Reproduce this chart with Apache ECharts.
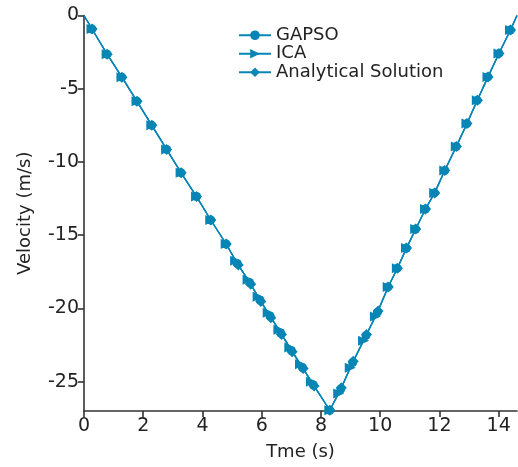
<!DOCTYPE html>
<html>
<head>
<meta charset="utf-8">
<script src="https://cdn.jsdelivr.net/npm/echarts@6/dist/echarts.min.js"></script>
<style>
  html, body { margin: 0; padding: 0; background: #fff; }
  #chart { width: 518px; height: 467px; }
</style>
</head>
<body>
<div id="chart"></div>
<script>
// Velocity profile over time: two optimisers against the analytical solution
const timeAnalytical = [0, 0.27, 0.78, 1.28, 1.79, 2.29, 2.79, 3.28, 3.80, 4.28, 4.80, 5.21, 5.63, 5.97, 6.31, 6.67, 7.03, 7.40, 7.77, 8.30,
  8.69, 9.09, 9.54, 9.93, 10.27, 10.58, 10.89, 11.20, 11.53, 11.84, 12.18, 12.57, 12.93, 13.28, 13.64, 14.01, 14.40, 14.62];
const velAnalytical = [0, -0.92, -2.64, -4.21, -5.86, -7.50, -9.14, -10.74, -12.36, -13.96, -15.60, -17.04, -18.34, -19.53, -20.63, -21.77, -22.96, -24.10, -25.30, -26.95,
  -25.42, -23.60, -21.77, -20.17, -18.53, -17.25, -15.88, -14.58, -13.21, -12.11, -10.58, -8.94, -7.38, -5.79, -4.19, -2.59, -0.99, 0];

const timeICA = [0, 0.27, 0.78, 1.28, 1.79, 2.29, 2.79, 3.28, 3.80, 4.28, 4.80, 5.12, 5.54, 5.88, 6.22, 6.58, 6.95, 7.31, 7.68, 8.30,
  8.60, 8.99, 9.44, 9.84, 10.27, 10.58, 10.89, 11.20, 11.53, 11.84, 12.18, 12.57, 12.93, 13.28, 13.64, 14.01, 14.40, 14.62];
const velICA = [0, -0.92, -2.64, -4.21, -5.86, -7.50, -9.14, -10.74, -12.36, -13.96, -15.60, -16.74, -18.04, -19.20, -20.30, -21.45, -22.66, -23.80, -25.00, -26.95,
  -25.80, -24.05, -22.20, -20.55, -18.53, -17.25, -15.88, -14.58, -13.21, -12.11, -10.58, -8.94, -7.38, -5.79, -4.19, -2.59, -0.99, 0];

const timeGAPSO = [0, 0.27, 0.78, 1.28, 1.79, 2.29, 2.79, 3.28, 3.80, 4.28, 4.80, 5.18, 5.60, 5.95, 6.29, 6.65, 7.01, 7.38, 7.75, 8.30,
  8.67, 9.07, 9.52, 9.91, 10.27, 10.58, 10.89, 11.20, 11.53, 11.84, 12.18, 12.57, 12.93, 13.28, 13.64, 14.01, 14.40, 14.62];
const velGAPSO = [0, -0.92, -2.64, -4.21, -5.86, -7.50, -9.14, -10.74, -12.36, -13.96, -15.60, -16.95, -18.25, -19.45, -20.55, -21.70, -22.90, -24.05, -25.25, -26.95,
  -25.50, -23.70, -21.85, -20.25, -18.53, -17.25, -15.88, -14.58, -13.21, -12.11, -10.58, -8.94, -7.38, -5.79, -4.19, -2.59, -0.99, 0];

const xTicks = [0, 2, 4, 6, 8, 10, 12, 14];
const yTicks = [0, -5, -10, -15, -20, -25];

const seriesNames = ['GAPSO', 'ICA', 'Analytical Solution'];
const lineColor = '#0786b6';

// end points of each curve carry no marker
function pairs(ts, vs) {
  return ts.map((t, i) => {
    const item = { value: [t, vs[i]] };
    if (i === 0 || i === ts.length - 1) item.symbol = 'none';
    return item;
  });
}

const chart = echarts.init(document.getElementById('chart'), null, { renderer: 'canvas' });

const axisFont = 'DejaVu Sans';
const axisLineStyle = { color: '#333', width: 1.6 };

chart.setOption({
  animation: false,
  backgroundColor: '#fff',
  color: [lineColor, lineColor, lineColor],
  grid: { left: 84, right: 1, top: 15.5, bottom: 56, containLabel: false },
  legend: {
    orient: 'vertical',
    left: 233,
    top: 21,
    itemWidth: 32,
    itemHeight: 12,
    itemGap: 0,
    data: seriesNames,
    textStyle: { fontFamily: axisFont, fontSize: 18, color: '#222', lineHeight: 18.5, padding: [0, 0, 0, 0] }
  },
  xAxis: {
    type: 'value',
    min: 0,
    max: 14.62,
    name: 'Tme (s)',
    nameLocation: 'middle',
    nameGap: 32,
    nameTextStyle: { fontFamily: axisFont, fontSize: 18, color: '#222' },
    axisLine: { show: true, onZero: false, lineStyle: axisLineStyle },
    axisTick: { show: true, inside: false, length: 6, customValues: xTicks, lineStyle: axisLineStyle },
    axisLabel: { customValues: xTicks, margin: 6, fontFamily: axisFont, fontSize: 19, color: '#222' },
    splitLine: { show: false }
  },
  yAxis: {
    type: 'value',
    min: -27,
    max: 0,
    name: 'Velocity (m/s)',
    nameLocation: 'middle',
    nameGap: 50,
    nameTextStyle: { fontFamily: axisFont, fontSize: 18, color: '#222' },
    axisLine: { show: true, onZero: false, lineStyle: axisLineStyle },
    axisTick: { show: true, inside: false, length: 6, customValues: yTicks, lineStyle: axisLineStyle },
    axisLabel: { customValues: yTicks, margin: 5, fontFamily: axisFont, fontSize: 19, color: '#222' },
    splitLine: { show: false }
  },
  series: [
    {
      name: 'GAPSO', type: 'line', data: pairs(timeGAPSO, velGAPSO),
      symbol: 'circle', symbolSize: 9, showAllSymbol: true, clip: false,
      lineStyle: { width: 1.3, color: lineColor }, itemStyle: { color: lineColor }
    },
    {
      name: 'ICA', type: 'line', data: pairs(timeICA, velICA),
      symbol: 'triangle', symbolSize: [10, 11], symbolRotate: -90, showAllSymbol: true, clip: false,
      lineStyle: { width: 1.3, color: lineColor }, itemStyle: { color: lineColor }
    },
    {
      name: 'Analytical Solution', type: 'line', data: pairs(timeAnalytical, velAnalytical),
      symbol: 'diamond', symbolSize: 11, showAllSymbol: true, clip: false,
      lineStyle: { width: 1.3, color: lineColor }, itemStyle: { color: lineColor }
    }
  ]
});
</script>
</body>
</html>
